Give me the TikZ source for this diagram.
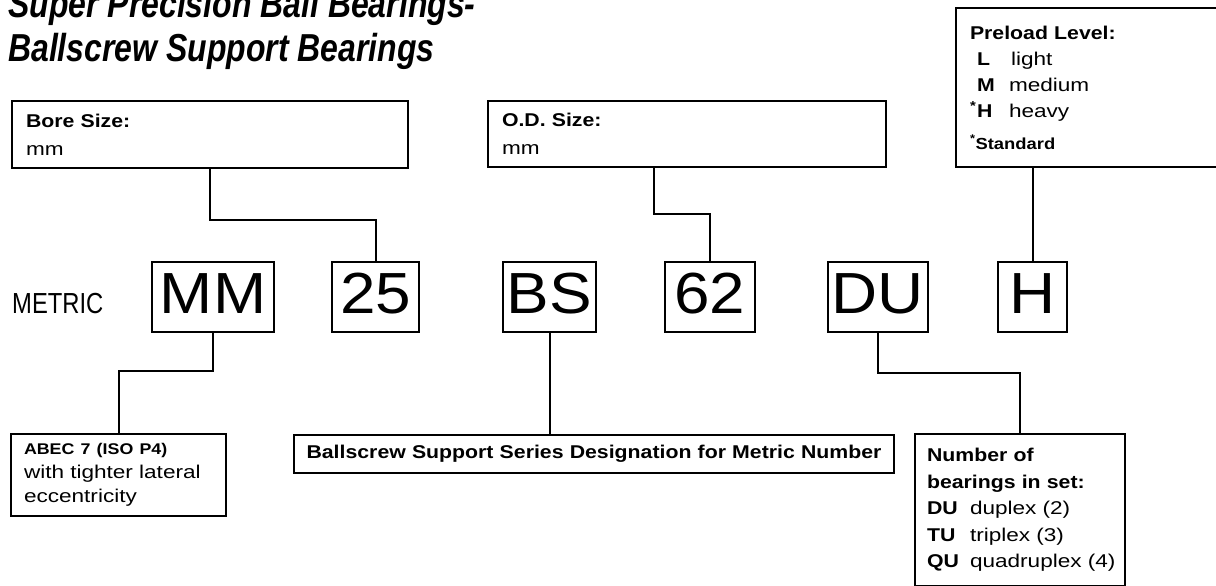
\documentclass[tikz,border=0pt]{standalone}
\usepackage{fontspec}
\setmainfont{Liberation Sans}[FakeStretch=1.22,BoldFeatures={FakeStretch=1.15}]
\newfontfamily\codefont{Liberation Sans}[FakeStretch=1.1]
\newfontfamily\condfont{Liberation Sans}[FakeStretch=0.82]
\usetikzlibrary{positioning}

\begin{document}
\begin{tikzpicture}[
    x=1pt, y=-1pt,
    infobox/.style={draw,line width=2pt,anchor=north west,align=left,inner xsep=14pt,inner ysep=0pt,font=\fontsize{18.5pt}{26pt}\selectfont},
    codebox/.style={draw,line width=2pt,minimum height=70pt,text height=42pt,text depth=10pt,inner xsep=0pt,font=\codefont\fontsize{58pt}{60pt}\selectfont},
    link/.style={line width=2pt}
  ]
  \useasboundingbox (0,0) rectangle (1216,586);
  \clip (0,0) rectangle (1216,586);
  \fill[white] (0,0) rectangle (1216,586);
  % Title
  \node[anchor=base west,align=left,inner sep=0pt,font=\condfont\bfseries\itshape\fontsize{39pt}{44pt}\selectfont] (title) at (8,62) {Super Precision Ball Bearings-\\Ballscrew Support Bearings};
  \node[anchor=base west,inner sep=0pt,font=\condfont\fontsize{29pt}{30pt}\selectfont] (metric) at (12,313) {METRIC};
  % Code letters
  \foreach \n/\x/\w/\t in {mm/213/122/MM, n25/375.5/87/25, bs/549.5/93/BS, n62/710/90/62, du/878/100/DU, hh/1032.5/69/H}
    \node[codebox,minimum width=\w pt] (\n) at (\x,297) {\t};
  % Upper boxes
  \node[infobox,minimum width=396pt,text width=368pt,minimum height=67pt,font=\fontsize{18.5pt}{28pt}\selectfont] (bore) at (11,100) {\textbf{Bore Size:}\\mm};
  \node[infobox,minimum width=398pt,text width=370pt,minimum height=66pt,font=\fontsize{18.5pt}{28pt}\selectfont] (od) at (487,100) {\textbf{O.D. Size:}\\mm};
  \node[infobox,minimum width=280pt,text width=252pt,minimum height=159pt] (pre) at (955,7) {\textbf{Preload Level:}\\
    \makebox[7pt][l]{}\makebox[34pt][l]{\textbf{L}}light\\
    \makebox[7pt][l]{}\makebox[32pt][l]{\textbf{M}}medium\\
    \makebox[7pt][l]{\textsuperscript{\textbf{*}}}\makebox[32pt][l]{\textbf{H}}heavy\\[6pt]
    {\fontsize{16pt}{26pt}\selectfont\textbf{\textsuperscript{*}Standard}}};
  % Lower boxes
  \node[infobox,minimum width=215pt,text width=189pt,inner xsep=13pt,minimum height=82pt,font=\fontsize{18.5pt}{24pt}\selectfont] (abec) at (10,433) {{\fontsize{15.5pt}{24pt}\selectfont\textbf{ABEC 7 (ISO P4)}}\\with tighter lateral\\eccentricity};
  \node[infobox,minimum width=600pt,text width=584pt,inner xsep=8pt,minimum height=38pt,align=center] (bsd) at (293,434) {\textbf{Ballscrew Support Series Designation for Metric Number}};
  \node[infobox,minimum width=210pt,text width=186pt,inner xsep=12pt,minimum height=152pt,font=\fontsize{18.5pt}{26.5pt}\selectfont] (num) at (914,433) {\textbf{Number of}\\\textbf{bearings in set:}\\
    \makebox[43pt][l]{\textbf{DU}}duplex (2)\\
    \makebox[43pt][l]{\textbf{TU}}triplex (3)\\
    \mbox{\makebox[43pt][l]{\textbf{QU}}quadruplex (4)}};
  % Connectors
  \draw[link] (bore.south) -- ++(0,51) -| (n25.north);
  \draw[link] ([xshift=-33pt]od.south) -- ++(0,46) -| (n62.north);
  \draw[link] (pre.south -| hh.north) -- (hh.north);
  \draw[link] (mm.south) -- ++(0,38) -| (abec.north);
  \draw[link] (bs.south) -- (bs.south |- bsd.north);
  \draw[link] (du.south) -- ++(0,40) -| (num.north);
\end{tikzpicture}
\end{document}
